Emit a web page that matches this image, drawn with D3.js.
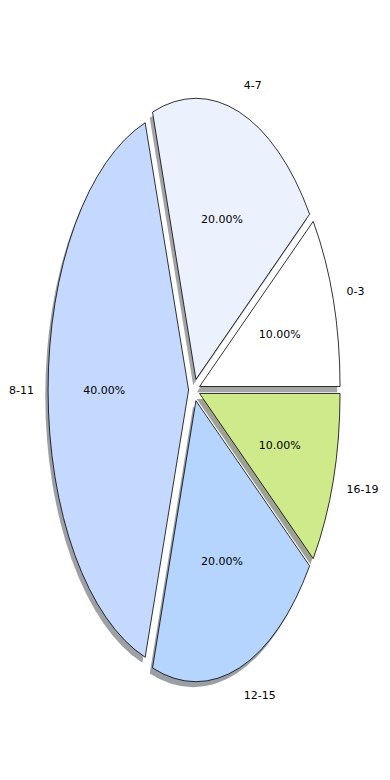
<!DOCTYPE html>
<html>
<head>
<meta charset="utf-8">
<script src="https://cdn.jsdelivr.net/npm/d3@7"></script>
<style>
  body { margin: 0; background: #fff; }
  text { font-family: "DejaVu Sans", sans-serif; font-size: 11px; fill: #000; }
</style>
</head>
<body>
<div id="chart"></div>
<script>
// data
var categories = ["0-3", "4-7", "8-11", "12-15", "16-19"];
var shares = [10, 20, 40, 20, 10];
var colors = ["#ffffff", "#ebf2fe", "#c5d8fe", "#b5d5fe", "#cfea8b"];
var explode = [0.04, 0.04, 0.04, 0.04, 0.04];

var W = 390, H = 780;
var cx = 194.2, cy = 390, rx = 140.5, ry = 281;

var svg = d3.select("#chart").append("svg")
    .attr("width", W)
    .attr("height", H);

// data units -> pixels (pie is stretched, axes not equal)
var x = d3.scaleLinear().domain([-1, 1]).range([cx - rx, cx + rx]);
var y = d3.scaleLinear().domain([-1, 1]).range([cy + ry, cy - ry]);

// d3 angles are clockwise from 12 o'clock; run them counterclockwise from 3 o'clock
var pie = d3.pie().sort(null).value(function(d) { return d; })
    .startAngle(Math.PI / 2).endAngle(Math.PI / 2 - 2 * Math.PI);
var arcs = pie(shares);

var slices = arcs.map(function(a, i) {
    var t1 = Math.PI / 2 - a.startAngle,
        t2 = Math.PI / 2 - a.endAngle,
        tm = (t1 + t2) / 2;
    return {
        i: i, t1: t1, t2: t2, tm: tm,
        ox: explode[i] * Math.cos(tm),
        oy: explode[i] * Math.sin(tm)
    };
});

function wedgePath(s, dx, dy) {
    var x0 = x(s.ox) + dx, y0 = y(s.oy) + dy;
    var x1 = x(s.ox + Math.cos(s.t1)) + dx, y1 = y(s.oy + Math.sin(s.t1)) + dy;
    var x2 = x(s.ox + Math.cos(s.t2)) + dx, y2 = y(s.oy + Math.sin(s.t2)) + dy;
    var large = (s.t2 - s.t1) > Math.PI ? 1 : 0;
    return "M" + x0 + "," + y0 + "L" + x1 + "," + y1 +
        "A" + rx + "," + ry + " 0 " + large + " 0 " + x2 + "," + y2 + "Z";
}

// shadows first, behind every wedge
svg.append("g").selectAll("path")
    .data(slices)
    .enter()
    .append("path")
        .attr("d", function(s) { return wedgePath(s, -0.02 * rx, 0.02 * ry); })
        .attr("fill", function(s) {
            var c = d3.rgb(colors[s.i]);
            return d3.rgb(c.r * 0.3, c.g * 0.3, c.b * 0.3);
        })
        .attr("fill-opacity", 0.5);

svg.append("g").selectAll("path")
    .data(slices)
    .enter()
    .append("path")
        .attr("d", function(s) { return wedgePath(s, 0, 0); })
        .attr("fill", function(s) { return colors[s.i]; })
        .attr("stroke", "#000")
        .attr("stroke-width", 0.8)
        .attr("stroke-linejoin", "miter");

// category labels at 1.1 radius
svg.append("g").selectAll("text")
    .data(slices)
    .enter()
    .append("text")
        .attr("x", function(s) { return x(s.ox + 1.1 * Math.cos(s.tm)); })
        .attr("y", function(s) { return y(s.oy + 1.1 * Math.sin(s.tm)); })
        .attr("dy", "0.35em")
        .attr("text-anchor", function(s) { return Math.cos(s.tm) > 0 ? "start" : "end"; })
        .text(function(s) { return categories[s.i]; });

// percentages at 0.6 radius
svg.append("g").selectAll("text")
    .data(slices)
    .enter()
    .append("text")
        .attr("x", function(s) { return x(s.ox + 0.6 * Math.cos(s.tm)); })
        .attr("y", function(s) { return y(s.oy + 0.6 * Math.sin(s.tm)); })
        .attr("dy", "0.35em")
        .attr("text-anchor", "middle")
        .text(function(s) { return shares[s.i].toFixed(2) + "%"; });
</script>
</body>
</html>
